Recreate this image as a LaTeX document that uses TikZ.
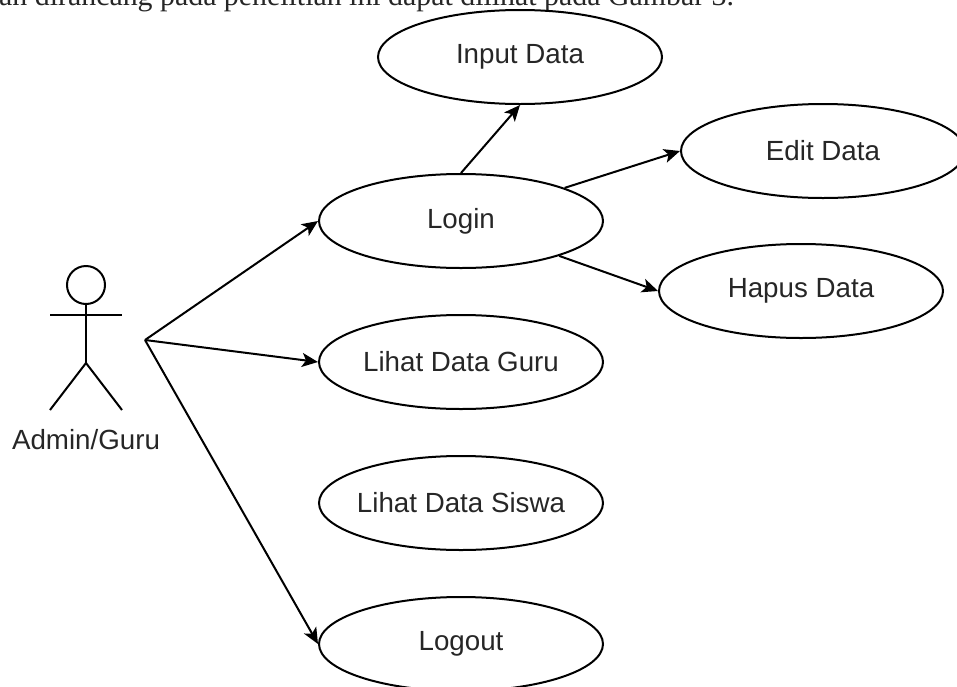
\documentclass[tikz,border=0pt]{standalone}
\usepackage{fontspec}
\setmainfont{Liberation Sans}
\newfontfamily\bodyfont{Liberation Serif}
\usetikzlibrary{arrows.meta,shapes.geometric,positioning}

\tikzset{
    usecase/.style={ellipse, draw, line width=1.5pt, minimum width=213pt,
        minimum height=70.5pt, inner ysep=0pt, inner xsep=-5pt, text=black!85},
    actorline/.style={line width=1.5pt}
}

\begin{document}
\begin{tikzpicture}[x=0.75pt, y=-0.75pt, >={Stealth[length=12pt,width=10.5pt,inset=3pt]},
    line width=1.5pt, node distance=105.75pt, font=\fontsize{20.8}{25}\selectfont]
    \useasboundingbox (0,0) rectangle (957,686);

    % Caption line, cut by the page
    \node [anchor=base east, inner sep=0pt, text=black!85,
        font=\bodyfont\fontsize{22.4}{26}\selectfont] (caption) at (735,5)
        {an dirancang pada penelitian ini dapat dilihat pada Gambar 3.};

    % Actor
    \draw [actorline] (86,285) circle [radius=19];
    \draw [actorline] (50,315) -- (122,315);
    \draw [actorline] (86,304) -- (86,363);
    \draw [actorline] (50,410) -- (86,363) -- (122,410);
    \node [text=black!85]   (admin)     at (86,440)     {Admin/Guru};
    \coordinate             (actor)     at (145,340);

    % Nodes {login, guru, siswa, logout, input, edit, hapus}
    \node [usecase]     (login)     at (461,221)            {Login};
    \node [usecase]     (guru)      [below of=login]        {Lihat Data Guru};
    \node [usecase]     (siswa)     [below of=guru]         {Lihat Data Siswa};
    \node [usecase]     (logout)    [below of=siswa]        {Logout};
    \node [usecase]     (input)     at (520,57)             {Input Data};
    \node [usecase]     (edit)      at (823,151)            {Edit Data};
    \node [usecase]     (hapus)     at (801,291)            {Hapus Data};

    % Paths
    \path [->]  (actor)         edge    (login.west);
    \path [->]  (actor)         edge    (guru.west);
    \path [->]  (actor)         edge    (logout.west);
    \path [->]  (login.north)   edge    (input.south);
    \path [->]  (login)         edge    (edit.west);
    \path [->]  (login)         edge    (hapus.west);

\end{tikzpicture}
\end{document}
